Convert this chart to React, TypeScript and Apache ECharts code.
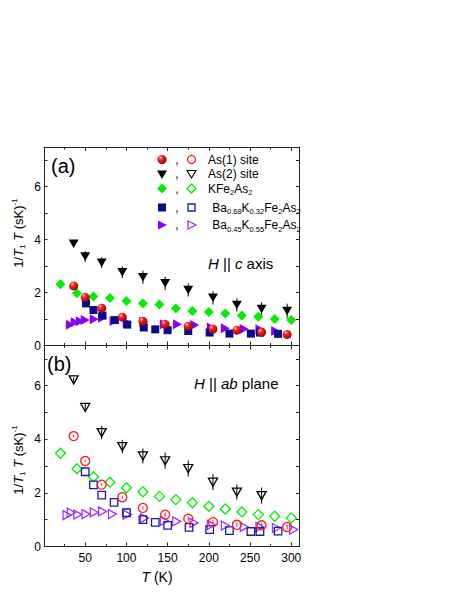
import React, { useEffect, useRef } from 'react';
import * as echarts from 'echarts';

// ---------- Data (T in K, 1/T1T in (sK)^-1) ----------
// Panel (a): H || c axis
const tAs1C = [36, 50, 70, 95, 120, 147, 175, 205, 234, 264, 295];
const as1C = [2.25, 1.82, 1.41, 1.07, 0.92, 0.8, 0.73, 0.62, 0.58, 0.5, 0.42];
const tAs2C = [36, 50, 70, 95, 120, 147, 175, 205, 234, 264, 295];
const as2C = [3.84, 3.36, 3.13, 2.77, 2.58, 2.35, 2.1, 1.8, 1.53, 1.38, 1.3];
const as2CErr = [0.05, 0.2, 0.2, 0.22, 0.25, 0.25, 0.25, 0.25, 0.25, 0.25, 0.28];
const tK = [20, 40, 60, 80, 100, 120, 140, 160, 180, 200, 220, 240, 260, 280, 300];
const kC = [2.31, 1.97, 1.85, 1.79, 1.68, 1.59, 1.55, 1.4, 1.3, 1.27, 1.21, 1.13, 1.09, 1.0, 0.96];
const tBa68C = [51, 60, 71, 86, 101, 121, 135, 150, 175, 201, 225, 251, 262, 284];
const ba68C = [1.59, 1.34, 1.13, 0.96, 0.79, 0.68, 0.61, 0.58, 0.55, 0.49, 0.45, 0.45, 0.49, 0.44];
const tBa45C = [32, 38, 44, 50, 61, 71, 85, 101, 121, 146, 162, 183, 203, 220, 243, 262, 281];
const ba45C = [0.78, 0.88, 0.92, 0.96, 0.99, 1.05, 0.93, 0.87, 0.9, 0.8, 0.8, 0.77, 0.68, 0.65, 0.62, 0.61, 0.55];

// Panel (b): H || ab plane
const tAs1Ab = [36, 50, 70, 95, 120, 147, 175, 205, 234, 264, 295];
const as1Ab = [4.12, 3.19, 2.31, 1.84, 1.44, 1.19, 1.04, 0.91, 0.81, 0.79, 0.73];
const as1AbErr = [0.04, 0.04, 0.05, 0.05, 0.06, 0.08, 0.08, 0.08, 0.08, 0.08, 0.08];
const tAs2Ab = [36, 50, 70, 95, 120, 147, 175, 205, 234, 264];
const as2Ab = [6.22, 5.19, 4.25, 3.73, 3.38, 3.2, 2.91, 2.4, 2.03, 1.9];
const as2AbErr = [0.08, 0.15, 0.25, 0.25, 0.28, 0.3, 0.3, 0.3, 0.28, 0.3];
const kAb = [3.48, 2.9, 2.6, 2.4, 2.19, 2.04, 1.87, 1.75, 1.63, 1.5, 1.4, 1.29, 1.19, 1.13, 1.06];
const tBa68Ab = [50, 60, 70, 85, 100, 120, 135, 150, 176, 201, 225, 251, 262, 284];
const ba68Ab = [2.79, 2.3, 1.92, 1.65, 1.26, 1.0, 0.9, 0.79, 0.71, 0.63, 0.59, 0.56, 0.56, 0.57];
const tBa45Ab = [28, 33, 41, 51, 61, 71, 83, 101, 122, 146, 161, 182, 203, 220, 243, 262, 282, 303];
const ba45Ab = [1.17, 1.26, 1.19, 1.21, 1.27, 1.31, 1.21, 1.19, 1.06, 0.96, 0.94, 0.88, 0.81, 0.78, 0.73, 0.73, 0.69, 0.63];

const yTickLabels = ['0', '2', '4', '6'];
const xTickLabels = ['50', '100', '150', '200', '250', '300'];
const legendTexts = [
  'As(1) site',
  'As(2) site',
  'KFe{s|2}As{s|2}',
  ' Ba{s|0.68}K{s|0.32}Fe{s|2}As{s|2}',
  ' Ba{s|0.45}K{s|0.55}Fe{s|2}As{s|2}',
];

const FONT = "'Liberation Sans', Arial, sans-serif";
const RED = '#ff1a1a';
const GREEN = '#00ee00';
const NAVY = '#0a0a8c';
const BLUE_OPEN = '#1a1aa8';
const PURPLE = '#8a00ff';
const PURPLE_OPEN = '#9933ff';

const SYM_DOWN = 'path://M0,0L10,0L5,8.66Z';
const SYM_RIGHT = 'path://M0,0L8.66,5L0,10Z';

const zip = (xs: number[], ys: number[]) => xs.map((x, i) => [x, ys[i]]);

const sphere = () =>
  new echarts.graphic.RadialGradient(0.35, 0.3, 0.7, [
    { offset: 0, color: '#ffd0d0' },
    { offset: 0.35, color: '#ff2020' },
    { offset: 1, color: '#a00000' },
  ]);

function filled(name: string, xs: number[], ys: number[], idx: number, symbol: string, size: any, color: any) {
  return {
    type: 'scatter', name, xAxisIndex: idx * 2, yAxisIndex: idx * 2,
    data: zip(xs, ys), symbol, symbolSize: size,
    itemStyle: { color, opacity: 1 }, z: 3,
  };
}
function open(name: string, xs: number[], ys: number[], idx: number, symbol: string, size: any, color: string) {
  return {
    type: 'scatter', name, xAxisIndex: idx * 2, yAxisIndex: idx * 2,
    data: zip(xs, ys), symbol, symbolSize: size,
    itemStyle: { color: 'rgba(255,255,255,0)', borderColor: color, borderWidth: 1.3, opacity: 1 }, z: 3,
  };
}
function errBars(xs: number[], ys: number[], es: number[], idx: number, color: string) {
  return {
    type: 'custom', xAxisIndex: idx * 2, yAxisIndex: idx * 2, silent: true, z: 2,
    data: xs.map((x, i) => [x, ys[i] - es[i], ys[i] + es[i]]),
    renderItem: (_p: any, api: any) => {
      const a = api.coord([api.value(0), api.value(1)]);
      const b = api.coord([api.value(0), api.value(2)]);
      return { type: 'line', shape: { x1: a[0], y1: a[1], x2: b[0], y2: b[1] }, style: { stroke: color, lineWidth: 1 } };
    },
  };
}

const axisLineStyle = { color: '#222', width: 1 };

function xAxisFor(grid: number, pos: 'top' | 'bottom', labels: boolean) {
  return {
    type: 'value', gridIndex: grid, position: pos, min: 0, max: 310, interval: 50,
    axisLine: { show: true, onZero: false, lineStyle: axisLineStyle },
    axisTick: { show: true, inside: true, length: 4, lineStyle: axisLineStyle },
    minorTick: { show: true, splitNumber: 2, length: 2.5, lineStyle: axisLineStyle },
    splitLine: { show: false },
    axisLabel: {
      show: labels, margin: 5, fontSize: 12, color: '#000', fontFamily: FONT,
      formatter: (v: number) => (xTickLabels.includes(String(v)) ? String(v) : ''),
    },
  };
}
function yAxisFor(grid: number, pos: 'left' | 'right', labels: boolean) {
  return {
    type: 'value', gridIndex: grid, position: pos, min: 0, max: 7.5, interval: 1,
    axisLine: { show: true, onZero: false, lineStyle: axisLineStyle },
    axisTick: { show: true, inside: true, length: 3.5, lineStyle: axisLineStyle },
    splitLine: { show: false },
    axisLabel: {
      show: labels, margin: 3, fontSize: 12, color: '#000', fontFamily: FONT,
      formatter: (v: number) => (yTickLabels.includes(String(v)) ? String(v) : ''),
    },
  };
}

const richBase = {
  n: { fontSize: 12, fontFamily: FONT, lineHeight: 16, fill: '#000' },
  s: { fontSize: 7.5, fontFamily: FONT, lineHeight: 9, verticalAlign: 'bottom', fill: '#000' },
};

function txt(x: number, y: number, text: string, rich: any, align = 'left', rotation = 0) {
  return {
    type: 'text', x, y, rotation, z: 10,
    style: { text, rich, align, textAlign: align, verticalAlign: 'middle', textVerticalAlign: 'middle', fill: '#000' },
  };
}

export default function App() {
  const ref = useRef<HTMLDivElement>(null);
  useEffect(() => {
    if (!ref.current) return;
    const chart = echarts.init(ref.current, undefined, { renderer: 'svg' });

    const legendRows = [159.5, 173.5, 188.5, 207.5, 225];
    const legendGraphics: any[] = [];
    // markers
    legendGraphics.push({ type: 'circle', shape: { cx: 162, cy: legendRows[0], r: 4.6 }, style: { fill: sphere() }, z: 10 });
    legendGraphics.push({ type: 'circle', shape: { cx: 191.5, cy: legendRows[0], r: 4 }, style: { fill: 'none', stroke: RED, lineWidth: 1.2 }, z: 10 });
    legendGraphics.push({ type: 'polygon', shape: { points: [[157, 170.5], [167, 170.5], [162, 179]] }, style: { fill: '#000' }, z: 10 });
    legendGraphics.push({ type: 'polygon', shape: { points: [[187, 170.5], [196, 170.5], [191.5, 178]] }, style: { fill: 'none', stroke: '#000', lineWidth: 1.1 }, z: 10 });
    legendGraphics.push({ type: 'polygon', shape: { points: [[162, 183.5], [167, 188.5], [162, 193.5], [157, 188.5]] }, style: { fill: GREEN }, z: 10 });
    legendGraphics.push({ type: 'polygon', shape: { points: [[191.5, 184], [196, 188.5], [191.5, 193], [187, 188.5]] }, style: { fill: 'none', stroke: GREEN, lineWidth: 1.3 }, z: 10 });
    legendGraphics.push({ type: 'rect', shape: { x: 158, y: 203.5, width: 8, height: 8 }, style: { fill: NAVY }, z: 10 });
    legendGraphics.push({ type: 'rect', shape: { x: 188, y: 204, width: 7, height: 7 }, style: { fill: 'none', stroke: BLUE_OPEN, lineWidth: 1.3 }, z: 10 });
    legendGraphics.push({ type: 'polygon', shape: { points: [[158, 220.5], [167, 225], [158, 229.5]] }, style: { fill: PURPLE }, z: 10 });
    legendGraphics.push({ type: 'polygon', shape: { points: [[188, 221], [196, 225], [188, 229]] }, style: { fill: 'none', stroke: PURPLE_OPEN, lineWidth: 1.3 }, z: 10 });
    legendRows.forEach((y, i) => {
      legendGraphics.push(txt(177, y, '{n|,}', richBase, 'center'));
      legendGraphics.push(txt(i < 3 ? 208 : 209, y, legendTexts[i].replace(/^([^{]*)/, (m) => (m ? `{n|${m}}` : '')).replace(/\}([^{}|]+)\{/g, '}{n|$1}{'), richBase));
    });

    const richAnno = {
      n: { fontSize: 15, fontFamily: FONT, lineHeight: 18, fill: '#000' },
      i: { fontSize: 15, fontFamily: FONT, fontStyle: 'italic', lineHeight: 18, fill: '#000' },
    };
    const richBig = { n: { fontSize: 20, fontFamily: FONT, lineHeight: 22, fill: '#000' } };
    const richAxis = {
      n: { fontSize: 13, fontFamily: FONT, lineHeight: 16, fill: '#000' },
      i: { fontSize: 13, fontFamily: FONT, fontStyle: 'italic', lineHeight: 16, fill: '#000' },
      s: { fontSize: 8, fontFamily: FONT, lineHeight: 9, verticalAlign: 'bottom', fill: '#000' },
      p: { fontSize: 8, fontFamily: FONT, lineHeight: 9, verticalAlign: 'top', fill: '#000' },
    };
    const yName = '{n|1/}{i|T}{s|1}{n| }{i|T}{n| (sK)}{p|-1}';

    const graphics = [
      ...legendGraphics,
      txt(51, 166, '{n|(a)}', richBig),
      txt(47, 364, '{n|(b)}', richBig),
      txt(208, 263, '{i|H}{n| || }{i|c}{n| axis}', richAnno),
      txt(194, 383, '{i|H}{n| || }{i|ab}{n| plane}', richAnno),
      txt(18, 233, yName, richAxis, 'center', Math.PI / 2),
      txt(18, 460, yName, richAxis, 'center', Math.PI / 2),
      txt(157, 577, '{i|T}{n| (K)}', { ...richAxis, n: { ...richAxis.n, fontSize: 14 }, i: { ...richAxis.i, fontSize: 14 } }, 'center'),
    ];

    chart.setOption({
      animation: false,
      backgroundColor: '#fff',
      grid: [
        { left: 44, top: 147, width: 255.5, height: 198.5, show: false },
        { left: 44, top: 345.5, width: 255.5, height: 201, show: false },
      ],
      xAxis: [xAxisFor(0, 'bottom', false), xAxisFor(0, 'top', false), xAxisFor(1, 'bottom', true), xAxisFor(1, 'top', false)],
      yAxis: [yAxisFor(0, 'left', true), yAxisFor(0, 'right', false), yAxisFor(1, 'left', true), yAxisFor(1, 'right', false)],
      series: [
        // panel (a)
        errBars(tAs2C, as2C, as2CErr, 0, '#000'),
        filled('KFe2As2 c', tK, kC, 0, 'diamond', [10, 10], GREEN),
        filled('Ba45 c', tBa45C, ba45C, 0, SYM_RIGHT, [9, 10], PURPLE),
        filled('Ba68 c', tBa68C, ba68C, 0, 'rect', [8, 8], NAVY),
        filled('As(1) c', tAs1C, as1C, 0, 'circle', 9, sphere()),
        filled('As(2) c', tAs2C, as2C, 0, SYM_DOWN, [10, 8.5], '#000'),
        // panel (b)
        errBars(tAs2Ab, as2Ab, as2AbErr, 1, '#000'),
        errBars(tAs1Ab, as1Ab, as1AbErr, 1, RED),
        open('KFe2As2 ab', tK, kAb, 1, 'diamond', [10, 10], GREEN),
        open('Ba45 ab', tBa45Ab, ba45Ab, 1, SYM_RIGHT, [8, 9], PURPLE_OPEN),
        open('Ba68 ab', tBa68Ab, ba68Ab, 1, 'rect', [7.5, 7.5], BLUE_OPEN),
        open('As(1) ab', tAs1Ab, as1Ab, 1, 'circle', 9, RED),
        open('As(2) ab', tAs2Ab, as2Ab, 1, SYM_DOWN, [9, 8], '#000'),
      ],
      graphic: graphics,
    });
    return () => chart.dispose();
  }, []);
  return <div ref={ref} style={{ position: 'absolute', left: 0, top: 0, width: 469, height: 607 }} />;
}
